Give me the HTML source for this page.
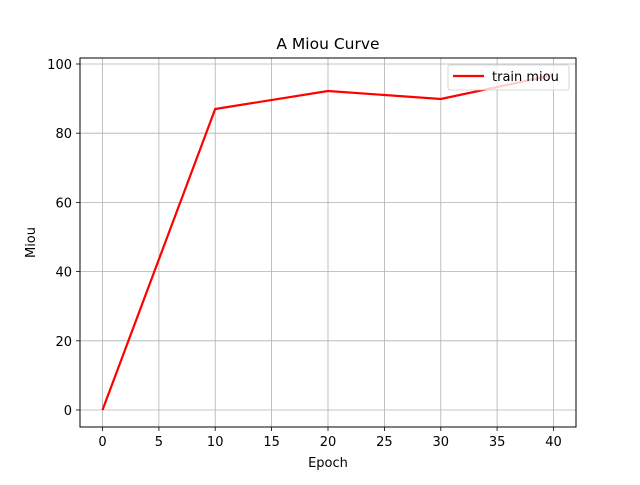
<!DOCTYPE html>
<html><head><style>body{margin:0;background:#fff}</style></head><body>
<svg width="640" height="480" xmlns="http://www.w3.org/2000/svg" font-family="DejaVu Sans, Liberation Sans, sans-serif">
<rect width="640" height="480" fill="#fff"/>
<g stroke="#b0b0b0" stroke-width="0.8">
<line x1="102.5" y1="58" x2="102.5" y2="427"/><line x1="158.9" y1="58" x2="158.9" y2="427"/>
<line x1="215.2" y1="58" x2="215.2" y2="427"/><line x1="271.6" y1="58" x2="271.6" y2="427"/>
<line x1="328" y1="58" x2="328" y2="427"/><line x1="384.4" y1="58" x2="384.4" y2="427"/>
<line x1="440.8" y1="58" x2="440.8" y2="427"/><line x1="497.1" y1="58" x2="497.1" y2="427"/>
<line x1="553.5" y1="58" x2="553.5" y2="427"/>
<line x1="80" y1="410" x2="576" y2="410"/><line x1="80" y1="340.8" x2="576" y2="340.8"/>
<line x1="80" y1="271.6" x2="576" y2="271.6"/><line x1="80" y1="202.4" x2="576" y2="202.4"/>
<line x1="80" y1="133.2" x2="576" y2="133.2"/><line x1="80" y1="64" x2="576" y2="64"/>
</g>
<polyline points="102.5,410 215.2,109 328,91 440.8,99 553.5,75" fill="none" stroke="#f00" stroke-width="2.2"/>
<rect x="80" y="58" width="496" height="369" fill="none" stroke="#000" stroke-width="1"/>
<g stroke="#000" stroke-width="0.8">
<line x1="102.5" y1="427" x2="102.5" y2="431"/><line x1="158.9" y1="427" x2="158.9" y2="431"/>
<line x1="215.2" y1="427" x2="215.2" y2="431"/><line x1="271.6" y1="427" x2="271.6" y2="431"/>
<line x1="328" y1="427" x2="328" y2="431"/><line x1="384.4" y1="427" x2="384.4" y2="431"/>
<line x1="440.8" y1="427" x2="440.8" y2="431"/><line x1="497.1" y1="427" x2="497.1" y2="431"/>
<line x1="553.5" y1="427" x2="553.5" y2="431"/>
<line x1="76" y1="410" x2="80" y2="410"/><line x1="76" y1="340.8" x2="80" y2="340.8"/>
<line x1="76" y1="271.6" x2="80" y2="271.6"/><line x1="76" y1="202.4" x2="80" y2="202.4"/>
<line x1="76" y1="133.2" x2="80" y2="133.2"/><line x1="76" y1="64" x2="80" y2="64"/>
</g>
<g font-size="13" text-anchor="middle" fill="#000">
<text x="102.5" y="446">0</text><text x="158.9" y="446">5</text><text x="215.2" y="446">10</text>
<text x="271.6" y="446">15</text><text x="328" y="446">20</text><text x="384.4" y="446">25</text>
<text x="440.8" y="446">30</text><text x="497.1" y="446">35</text><text x="553.5" y="446">40</text>
</g>
<g font-size="13" text-anchor="end" fill="#000">
<text x="72" y="415">0</text><text x="72" y="345.8">20</text><text x="72" y="276.6">40</text>
<text x="72" y="207.4">60</text><text x="72" y="138.2">80</text><text x="72" y="69">100</text>
</g>
<text x="328" y="467" font-size="13" text-anchor="middle">Epoch</text>
<text transform="translate(35,242.5) rotate(-90)" font-size="13" text-anchor="middle">Miou</text>
<text x="328" y="49" font-size="15.5" text-anchor="middle">A Miou Curve</text>
<rect x="448" y="65" width="121" height="25" rx="2" fill="#fff" fill-opacity="0.8" stroke="#ccc" stroke-width="0.8"/>
<line x1="453" y1="76" x2="484" y2="76" stroke="#f00" stroke-width="2.2"/>
<text x="492" y="81" font-size="13">train miou</text>
</svg>
</body></html>
